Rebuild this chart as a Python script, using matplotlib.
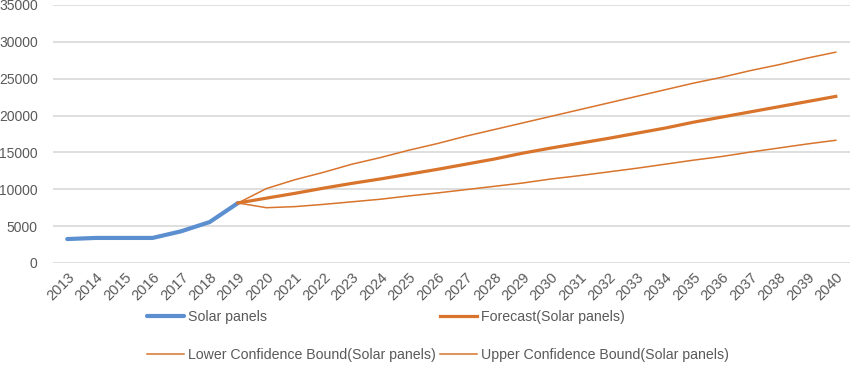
import matplotlib
matplotlib.use("Agg")
import matplotlib.pyplot as plt

years = list(range(2013, 2041))
year_labels = [str(y) for y in years]

solar_years = list(range(2013, 2020))
solar = [3250, 3400, 3400, 3400, 4300, 5550, 8140]

fc_years = list(range(2019, 2041))
forecast = [8140, 8800, 9450, 10150, 10800, 11400, 12050, 12700, 13400, 14100,
            14900, 15600, 16250, 16900, 17600, 18300, 19100, 19800, 20500, 21200,
            21900, 22600]
upper = [8140, 10100, 11300, 12300, 13400, 14300, 15300, 16200, 17200, 18100,
         19000, 19900, 20800, 21700, 22600, 23500, 24400, 25200, 26100, 26900,
         27800, 28600]
lower = [8140, 7500, 7650, 7950, 8300, 8650, 9100, 9500, 9950, 10400,
         10850, 11400, 11850, 12350, 12850, 13400, 13950, 14450, 15050, 15600,
         16150, 16650]

series_names = ["Solar panels", "Forecast(Solar panels)",
                "Lower Confidence Bound(Solar panels)",
                "Upper Confidence Bound(Solar panels)"]

yticks = [0, 5000, 10000, 15000, 20000, 25000, 30000, 35000]

plt.rcParams['font.family'] = ['Liberation Sans', 'DejaVu Sans']

blue = "#5B8FCF"
orange = "#D8742C"
grey_txt = "#595959"

fig = plt.figure(figsize=(8.5, 3.71), dpi=100)
ax = fig.add_axes([53/850, 1 - 263/371, 797/850, 258/371])

ax.plot(solar_years, solar, color=blue, lw=3.0, solid_capstyle='round', label=series_names[0], zorder=3)
ax.plot(fc_years, forecast, color=orange, lw=2.3, label=series_names[1], zorder=3)
ax.plot(fc_years, lower, color=orange, lw=1.1, label=series_names[2], zorder=3)
ax.plot(fc_years, upper, color=orange, lw=1.1, label=series_names[3], zorder=3)

ax.set_xlim(2012.5, 2040.5)
ax.set_ylim(0, 35000)
ax.set_yticks(yticks)
ax.set_yticklabels([str(v) for v in yticks])
ax.set_xticks(years)
ax.set_xticklabels(year_labels, rotation=45, ha='right', rotation_mode='anchor')
ax.grid(axis='y', color='#D9D9D9', lw=1.2)
ax.set_axisbelow(True)
for s in ax.spines.values():
    s.set_visible(False)
ax.tick_params(axis='both', length=0, colors=grey_txt, labelsize=10)
ax.tick_params(axis='x', labelsize=10.5, pad=5)
ax.tick_params(axis='y', pad=11)

h, l = ax.get_legend_handles_labels()
order = [0, 2, 1, 3]
leg = fig.legend([h[i] for i in order], [l[i] for i in order], ncol=2,
                 loc='upper left', bbox_to_anchor=(140/850, 1 - 303/371),
                 frameon=False, fontsize=10.2, handlelength=2.6, handletextpad=0.3,
                 columnspacing=0.3, labelspacing=1.7, borderpad=0)
for t in leg.get_texts():
    t.set_color(grey_txt)

fig.savefig("out.png", dpi=100)
